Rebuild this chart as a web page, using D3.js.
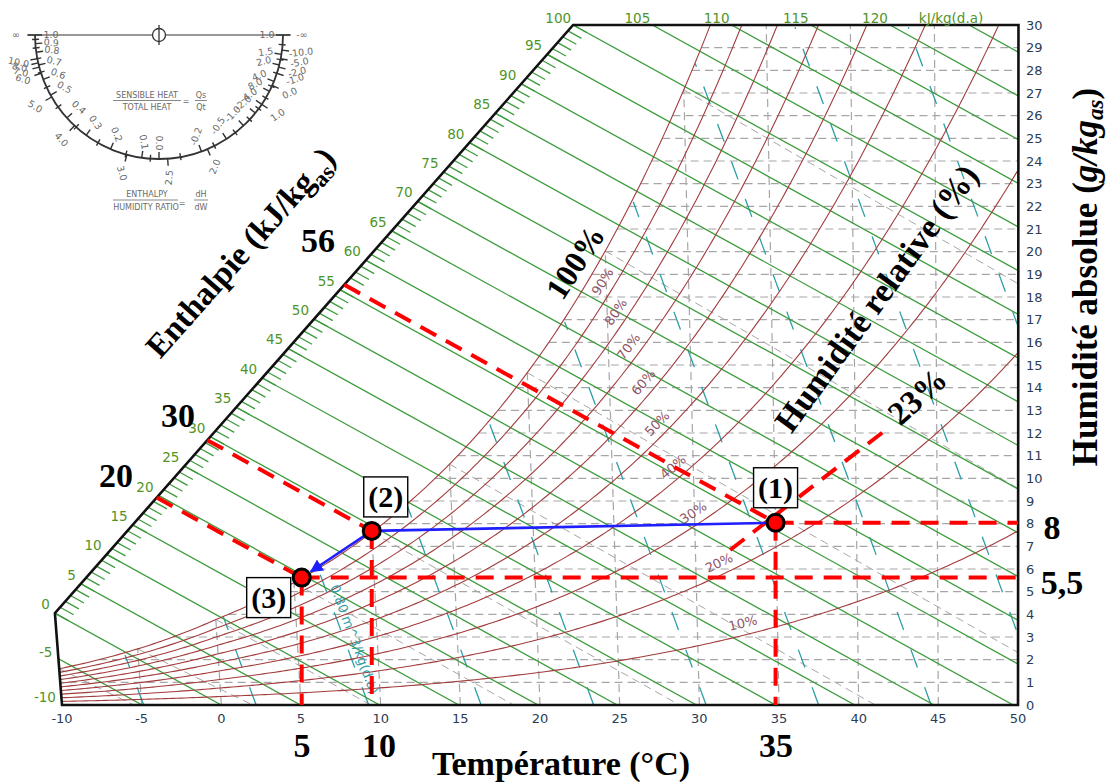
<!DOCTYPE html>
<html lang="fr">
<head>
<meta charset="utf-8">
<title>Diagramme de l'air humide</title>
<script src="https://cdn.jsdelivr.net/npm/d3@7/dist/d3.min.js"></script>
<style>
   body { margin: 0; background: #fff; }
   svg { display: block; }
</style>
</head>
<body>
<div id="chart"></div>
<script>
// ---- values ----
const tempTicks = [-10, -5, 0, 5, 10, 15, 20, 25, 30, 35, 40, 45, 50];
const humidityTicks = d3.range(0, 31);
const enthalpyLevels = d3.range(-10, 130, 5);            // kJ/kg(d.a)
const enthalpyTopLabels = [100, 105, 110, 115, 120];
const rhLevels = [10, 20, 30, 40, 50, 60, 70, 80, 90, 100];
const rhLabelLevels = [90, 80, 70, 60, 50, 40, 30, 20, 10];
const rhLabelHumidity = [18.4, 17.05, 15.5, 13.9, 12.05, 10.1, 8.05, 5.8, 3.1];
const volumeLevels = [0.76, 0.78, 0.80, 0.82, 0.84, 0.86, 0.88, 0.90, 0.92, 0.94];
const wetBulbLevels = [-10, -5, 0, 5, 10, 15, 20, 25, 30];

// process (1) -> (2) -> (3)
const processNames = ['(1)', '(2)', '(3)'];
const processTemp = [35, 10, 5.5];
const processHumidity = [8.04, 7.68, 5.62];
const leaderTemp = [32.15, 41.7];          // dashed pointer towards the 23% note
const leaderHumidity = [6.84, 12.04];

// protractor (sensible heat ratio inside, dH/dW outside), angles in degrees from the left end
const shrLabels = ['1.0', '0.9', '0.8', '0.7', '0.6', '0.5', '0.4', '0.3', '0.2', '0.1', '0.0',
                   '-0.2', '-0.5', '-1.0', '-2.0', '-4.0', '8.0', '4.0', '2.0', '1.5', '1.0'];
const shrAngles = [0, 4, 8, 14, 21, 29, 42, 54, 67, 82, 90, 110, 123, 133, 141, 146, 153, 158, 166, 171, 180];
const ratioLabels = ['\u221e', '10.0', '8.0', '7.0', '6.0', '5.0', '4.0', '3.0', '2.5', '2.0',
                     '1.0', '0.0', '-1.0', '-2.0', '-5.0', '-10.0', '-\u221e'];
const ratioAngles = [0, 11, 13, 15, 18, 30, 47, 75, 94, 113, 146, 156, 162, 165, 169, 173, 180];

const PRESSURE = 101.325;   // kPa
const SKEW = 2.593;         // x follows h - SKEW*W, so isotherms lean slightly

// ---- moist air relations ----
function satPressure(t) {
   return t >= 0
      ? 0.61094 * Math.exp(17.625 * t / (t + 243.04))
      : 0.61115 * Math.exp(22.452 * t / (t + 272.55));
}
function humidityFromPv(pv) { return 621.945 * pv / (PRESSURE - pv); }
function satHumidity(t) { return humidityFromPv(satPressure(t)); }
function tempFromPs(ps) {
   if (ps >= 0.61094) {
      const l = Math.log(ps / 0.61094);
      return 243.04 * l / (17.625 - l);
   }
   const l = Math.log(ps / 0.61115);
   return 272.55 * l / (22.452 - l);
}
function pvFromHumidity(w) { return w * PRESSURE / (621.945 + w); }
function enthalpy(t, w) { return 1.006 * t + w * (2.501 + 0.00186 * t); }
function tempFromHW(h, w) { return (h - 2.501 * w) / (1.006 + 0.00186 * w); }

class PsychroChart {
   constructor(parentElem) {
      this.parentElem = parentElem;
      this.initVis();
   }

   initVis() {
      this.svg = d3.select(this.parentElem).append('svg')
                     .attr('width', 1110)
                     .attr('height', 782);

      this.x = d3.scaleLinear().domain([-10, 50]).range([62, 1018]);
      this.y = d3.scaleLinear().domain([0, 30]).range([705, 25]);
      this.line = d3.line()
                     .x(d => this.px(d[0], d[1]))
                     .y(d => this.y(d[1]));

      // corner where h = 0 meets the -10 °C edge, start of the enthalpy scale
      this.cornerW = 10.06 / (2.501 - 0.0186);
      this.diagW = h => this.cornerW + (30 - this.cornerW) * h / 100;
      this.outline = [[-10, 0], [50, 0], [50, 30], [tempFromHW(100, 30), 30], [-10, this.cornerW]];

      this.svg.append('defs').append('clipPath')
         .attr('id', 'plot-clip')
         .append('path')
            .attr('d', this.line(this.outline) + 'Z');

      const mk = this.svg.select('defs').append('marker')
         .attr('id', 'arrow')
         .attr('viewBox', '0 0 10 10')
         .attr('refX', 9).attr('refY', 5)
         .attr('markerWidth', 5).attr('markerHeight', 5)
         .attr('markerUnits', 'strokeWidth')
         .attr('orient', 'auto');
      mk.append('path').attr('d', 'M0,0 L10,5 L0,10 Z').attr('fill', '#1f1fff');

      this.plot = this.svg.append('g');

      this.drawGrid();
      this.drawCurves();
      this.drawFrame();
      this.drawAnnotations();
      this.drawProtractor();
   }

   px(t, w) { return this.x((enthalpy(t, w) - SKEW * w) / 1.006); }

   drawGrid() {
      const g = this.plot.append('g')
                  .attr('clip-path', 'url(#plot-clip)')
                  .attr('fill', 'none')
                  .attr('stroke', '#a6a6a6')
                  .attr('stroke-width', 1.2)
                  .attr('stroke-dasharray', '8,5');

      g.selectAll('path.w-grid')
         .data(humidityTicks.filter(w => w > 0 && w < 30))
         .join('path')
            .attr('class', 'w-grid')
            .attr('d', w => this.line([[tempFromPs(pvFromHumidity(w)), w], [50, w]]));

      g.selectAll('path.t-grid')
         .data(tempTicks.filter(t => t > -10 && t < 50))
         .join('path')
            .attr('class', 't-grid')
            .attr('d', t => this.line([[t, 0], [t, Math.min(satHumidity(t), 30)]]));

      // wet bulb lines
      g.selectAll('path.wet-bulb')
         .data(wetBulbLevels)
         .join('path')
            .attr('class', 'wet-bulb')
            .attr('stroke-width', 1)
            .attr('d', twb => {
               const ws = satHumidity(twb) / 1000;
               const pts = d3.range(twb, 50.01, 0.5).map(t => {
                  const w = twb >= 0
                     ? ((2501 - 2.326 * twb) * ws - 1.006 * (t - twb)) / (2501 + 1.86 * t - 4.186 * twb)
                     : ((2830 - 0.24 * twb) * ws - 1.006 * (t - twb)) / (2830 + 1.86 * t - 2.1 * twb);
                  return [t, w * 1000];
               });
               return this.line(pts);
            });
   }

   drawCurves() {
      // specific volume
      this.plot.append('g')
         .attr('clip-path', 'url(#plot-clip)')
         .selectAll('path')
         .data(volumeLevels)
         .join('path')
            .attr('fill', 'none')
            .attr('stroke', '#2b9ea6')
            .attr('stroke-width', 1.3)
            .attr('stroke-dasharray', '19,21')
            .attr('d', v => {
               const pts = [];
               for (let w = 0; w <= 30; w += 0.1) {
                  const t = v * PRESSURE / (0.287042 * (1 + 0.001607858 * w)) - 273.15;
                  if (w > satHumidity(t)) break;
                  pts.push([t, w]);
               }
               return this.line(pts);
            });

      // enthalpy
      this.plot.append('g')
         .attr('clip-path', 'url(#plot-clip)')
         .selectAll('path')
         .data(enthalpyLevels)
         .join('path')
            .attr('fill', 'none')
            .attr('stroke', '#3d9c3d')
            .attr('stroke-width', 1.3)
            .attr('d', h => this.line([[tempFromHW(h, 0), 0], [tempFromHW(h, 30), 30]]));

      // relative humidity
      this.plot.append('g')
         .attr('clip-path', 'url(#plot-clip)')
         .selectAll('path')
         .data(rhLevels)
         .join('path')
            .attr('fill', 'none')
            .attr('stroke', '#a23c3c')
            .attr('stroke-width', 1.1)
            .attr('d', rh => this.line(d3.range(-10, 50.01, 0.25)
                                 .map(t => [t, humidityFromPv(rh / 100 * satPressure(t))])));

      // rh labels ride just above their curve
      const rhPoint = (rh, w) => {
         const t = tempFromPs(pvFromHumidity(w) / (rh / 100));
         return [this.px(t, w), this.y(w)];
      };
      this.plot.append('g')
         .selectAll('text')
         .data(rhLabelLevels)
         .join('text')
            .attr('transform', (rh, i) => {
               const w = rhLabelHumidity[i];
               const a = rhPoint(rh, w - 0.3), b = rhPoint(rh, w + 0.3), c = rhPoint(rh, w);
               const ang = Math.atan2(b[1] - a[1], b[0] - a[0]) * 180 / Math.PI;
               return `translate(${c[0]},${c[1]}) rotate(${ang})`;
            })
            .attr('y', -12)
            .attr('dy', '0.35em')
            .attr('text-anchor', 'middle')
            .attr('font-family', 'DejaVu Sans, Verdana, sans-serif')
            .attr('font-size', 13)
            .attr('fill', '#8e5567')
            .text(rh => rh + '%');

      // volume note along 0.80
      const vt = w => 0.80 * PRESSURE / (0.287042 * (1 + 0.001607858 * w)) - 273.15;
      const p1 = [this.px(vt(5.3), 5.3), this.y(5.3)];
      const p2 = [this.px(vt(0.2), 0.2), this.y(0.2)];
      const vAng = Math.atan2(p2[1] - p1[1], p2[0] - p1[0]) * 180 / Math.PI;
      this.plot.append('text')
         .attr('transform', `translate(${(p1[0] + p2[0]) / 2},${(p1[1] + p2[1]) / 2}) rotate(${vAng})`)
         .attr('y', -5)
         .attr('text-anchor', 'middle')
         .attr('font-family', 'DejaVu Sans, Verdana, sans-serif')
         .attr('font-size', 13)
         .attr('fill', '#2b9ea6')
         .text('0.80 m^3/kg(d.a)');
   }

   drawFrame() {
      const font = 'DejaVu Sans, Verdana, sans-serif';

      // enthalpy scale ticks along the slanted edge
      const tickG = this.plot.append('g')
                     .attr('stroke', '#3d9c3d')
                     .attr('stroke-width', 1.3);
      tickG.selectAll('line')
         .data(d3.range(0, 101))
         .join('line')
            .attr('x1', h => this.px(tempFromHW(h, this.diagW(h)), this.diagW(h)))
            .attr('y1', h => this.y(this.diagW(h)))
            .attr('x2', h => this.px(tempFromHW(h, this.diagW(h) - 0.33), this.diagW(h) - 0.33))
            .attr('y2', h => this.y(this.diagW(h) - 0.33));

      this.plot.append('path')
         .attr('d', this.line(this.outline) + 'Z')
         .attr('fill', 'none')
         .attr('stroke', '#111')
         .attr('stroke-width', 2.6)
         .attr('stroke-linejoin', 'miter');

      // enthalpy labels along the slanted edge and the -10 °C edge
      const edgeLabels = this.plot.append('g')
                           .attr('font-family', font)
                           .attr('font-size', 13.5)
                           .attr('fill', '#4f9428')
                           .attr('text-anchor', 'end');
      edgeLabels.selectAll('text.diag')
         .data(enthalpyLevels.filter(h => h >= 0 && h < 100))
         .join('text')
            .attr('class', 'diag')
            .attr('x', h => this.px(tempFromHW(h, this.diagW(h)), this.diagW(h)) - 5)
            .attr('y', h => this.y(this.diagW(h)) - 4)
            .text(h => h);
      const leftW = h => (h + 10.06) / (2.501 - 0.0186);
      edgeLabels.selectAll('text.left')
         .data(enthalpyLevels.filter(h => h < 0))
         .join('text')
            .attr('class', 'left')
            .attr('x', h => this.px(-10, leftW(h)) - 6)
            .attr('y', h => this.y(leftW(h)) - 2)
            .text(h => h);
      edgeLabels.selectAll('text.top')
         .data(enthalpyTopLabels)
         .join('text')
            .attr('class', 'top')
            .attr('x', h => this.px(tempFromHW(h, 30), 30) - 2)
            .attr('y', 23)
            .text(h => h);
      edgeLabels.append('text')
         .attr('x', this.px(tempFromHW(125, 30), 30) - 18)
         .attr('y', 23)
         .attr('text-anchor', 'middle')
         .text('kJ/kg(d.a)');

      // axes labels
      this.plot.append('g')
         .attr('font-family', font)
         .attr('font-size', 13)
         .attr('fill', '#2a3d55')
         .attr('text-anchor', 'middle')
         .selectAll('text')
         .data(tempTicks)
         .join('text')
            .attr('x', t => this.px(t, 0))
            .attr('y', 723)
            .text(t => t);

      this.plot.append('g')
         .attr('font-family', font)
         .attr('font-size', 13)
         .attr('fill', '#2a3d55')
         .selectAll('text')
         .data(humidityTicks)
         .join('text')
            .attr('x', 1026)
            .attr('y', w => this.y(w))
            .attr('dy', '0.36em')
            .text(w => w);
   }

   drawAnnotations() {
      const pts = processNames.map((n, i) => ({
         name: n,
         t: processTemp[i],
         w: processHumidity[i],
         x: this.px(processTemp[i], processHumidity[i]),
         y: this.y(processHumidity[i])
      }));
      const red = this.svg.append('g')
                     .attr('fill', 'none')
                     .attr('stroke', '#ff0000')
                     .attr('stroke-width', 4)
                     .attr('stroke-dasharray', '18,11');

      // enthalpy leaders back to the scale
      red.selectAll('path.lead')
         .data(pts)
         .join('path')
            .attr('class', 'lead')
            .attr('d', p => {
               const h = enthalpy(p.t, p.w);
               const wd = this.diagW(h);
               return this.line([[tempFromHW(h, wd), wd], [p.t, p.w]]);
            });
      red.selectAll('line.down')
         .data(pts)
         .join('line')
            .attr('class', 'down')
            .attr('x1', p => p.x).attr('y1', p => p.y)
            .attr('x2', p => p.x).attr('y2', this.y(0));
      red.selectAll('line.right')
         .data([pts[0], pts[2]])
         .join('line')
            .attr('class', 'right')
            .attr('x1', p => p.x).attr('y1', p => p.y)
            .attr('x2', this.x(50)).attr('y2', p => p.y);
      red.append('path')
         .attr('d', this.line(leaderTemp.map((t, i) => [t, leaderHumidity[i]])));

      // process path
      const blue = this.svg.append('g')
                     .attr('stroke', '#1f1fff')
                     .attr('stroke-width', 2.6);
      blue.append('line')
         .attr('x1', pts[0].x).attr('y1', pts[0].y)
         .attr('x2', pts[1].x).attr('y2', pts[1].y);
      const dx = pts[2].x - pts[1].x, dy = pts[2].y - pts[1].y;
      const len = Math.hypot(dx, dy);
      blue.append('line')
         .attr('x1', pts[1].x).attr('y1', pts[1].y)
         .attr('x2', pts[2].x - dx / len * 11).attr('y2', pts[2].y - dy / len * 11)
         .attr('marker-end', 'url(#arrow)');

      this.svg.append('g')
         .selectAll('circle')
         .data(pts)
         .join('circle')
            .attr('cx', p => p.x)
            .attr('cy', p => p.y)
            .attr('r', 8.5)
            .attr('fill', '#ff0000')
            .attr('stroke', '#000')
            .attr('stroke-width', 3);

      // boxed point names
      const boxOffset = [[0, -35], [14, -34], [-33, 20]];
      const boxes = this.svg.append('g')
                     .selectAll('g')
                     .data(pts)
                     .join('g')
                        .attr('transform', (p, i) => `translate(${p.x + boxOffset[i][0]},${p.y + boxOffset[i][1]})`);
      boxes.append('rect')
         .attr('x', -22).attr('y', -20)
         .attr('width', 44).attr('height', 40)
         .attr('fill', '#fff')
         .attr('stroke', '#000')
         .attr('stroke-width', 1.4);
      boxes.append('text')
         .attr('text-anchor', 'middle')
         .attr('dy', '0.34em')
         .attr('font-family', 'Liberation Serif, Times New Roman, serif')
         .attr('font-weight', 'bold')
         .attr('font-size', 30)
         .text(p => p.name);

      // big handwritten-style notes
      const notes = this.svg.append('g')
                     .attr('font-family', 'Liberation Serif, Times New Roman, serif')
                     .attr('font-weight', 'bold')
                     .attr('fill', '#000')
                     .attr('text-anchor', 'middle');
      const note = (txt, x, y, size, rot) => notes.append('text')
                     .attr('transform', `translate(${x},${y}) rotate(${rot || 0})`)
                     .attr('dy', '0.35em')
                     .attr('font-size', size)
                     .text(txt);

      note('56', 318, 240, 34);
      note('30', 178, 415, 34);
      note('20', 116, 475, 34);
      note('8', 1052, 527, 34);
      note('5,5', 1062, 582, 34);
      note('5', 302, 745, 34);
      note('10', 379, 745, 34);
      note('35', 776, 745, 34);
      note('Température (°C)', 561, 763, 34);
      note('100%', 575, 262, 32, -57);
      note('Humidité relative (%)', 876, 298, 34, -54);
      note('23%', 917, 396, 33, -42);

      const ent = notes.append('text')
                     .attr('transform', 'translate(240,252) rotate(-48.5)')
                     .attr('dy', '0.35em')
                     .attr('font-size', 33);
      ent.append('tspan').text('Enthalpie (kJ/kg');
      ent.append('tspan').attr('font-size', 23).attr('dy', 8).text('as');
      ent.append('tspan').attr('dy', -8).text(')');

      const abs = notes.append('text')
                     .attr('transform', 'translate(1085,277) rotate(-90)')
                     .attr('dy', '0.33em')
                     .attr('font-size', 35);
      abs.append('tspan').text('Humidité absolue (');
      abs.append('tspan').attr('font-style', 'italic').text('g/kg');
      abs.append('tspan').attr('font-style', 'italic').attr('font-size', 23).attr('dy', 6).text('as');
      abs.append('tspan').attr('dy', -6).text(')');
   }

   drawProtractor() {
      const cx = 159, cy = 35, r = 124;
      const font = 'DejaVu Sans, Verdana, sans-serif';
      const pt = (deg, rad) => [cx - rad * Math.cos(deg * Math.PI / 180),
                                cy + rad * Math.sin(deg * Math.PI / 180)];
      const g = this.svg.append('g')
                  .attr('stroke', '#333')
                  .attr('fill', 'none');

      g.append('path')
         .attr('d', `M${cx - r},${cy} A${r},${r} 0 0 0 ${cx + r},${cy}`)
         .attr('stroke-width', 1.8);
      g.append('line')
         .attr('x1', cx - r - 8).attr('y1', cy)
         .attr('x2', cx + r + 8).attr('y2', cy)
         .attr('stroke-width', 1.1);
      g.append('circle')
         .attr('cx', cx).attr('cy', cy).attr('r', 6.5)
         .attr('fill', '#fff')
         .attr('stroke-width', 1.3);
      g.append('line')
         .attr('x1', cx).attr('y1', cy - 10)
         .attr('x2', cx).attr('y2', cy + 10)
         .attr('stroke-width', 1.3);

      const tick = (deg, r1, r2) => {
         const a = pt(deg, r1), b = pt(deg, r2);
         return `M${a[0]},${a[1]}L${b[0]},${b[1]}`;
      };
      g.append('path')
         .attr('stroke-width', 1.4)
         .attr('d', shrAngles.map(a => tick(a, r, r - 7)).join('')
                  + ratioAngles.map(a => tick(a, r, r + 7)).join('')
                  + shrAngles.slice(1).map((a, i) => tick((a + shrAngles[i]) / 2, r - 4, r + 3)).join(''));

      const rot = a => (a <= 90 ? a : a - 180);
      const lab = this.svg.append('g')
                     .attr('font-family', font)
                     .attr('font-size', 9.5)
                     .attr('fill', '#6a6a6a')
                     .attr('text-anchor', 'middle');
      lab.selectAll('text.inner')
         .data(shrLabels)
         .join('text')
            .attr('class', 'inner')
            .attr('transform', (d, i) => {
               const p = pt(shrAngles[i], r - 16);
               return `translate(${p[0]},${p[1]}) rotate(${rot(shrAngles[i])})`;
            })
            .attr('dy', '0.35em')
            .text(d => d);
      lab.selectAll('text.outer')
         .data(ratioLabels)
         .join('text')
            .attr('class', 'outer')
            .attr('transform', (d, i) => {
               const p = pt(ratioAngles[i], r + 19);
               return `translate(${p[0]},${p[1]}) rotate(${rot(ratioAngles[i])})`;
            })
            .attr('dy', '0.35em')
            .text(d => d);

      // formulas
      const f = this.svg.append('g')
                  .attr('font-family', font)
                  .attr('font-size', 8)
                  .attr('fill', '#6a6a6a')
                  .attr('text-anchor', 'middle');
      f.append('text').attr('x', 147).attr('y', 98).text('SENSIBLE HEAT');
      f.append('text').attr('x', 147).attr('y', 110).text('TOTAL HEAT');
      f.append('text').attr('x', 186).attr('y', 104).text('=');
      f.append('text').attr('x', 201).attr('y', 98).text('Qs');
      f.append('text').attr('x', 201).attr('y', 110).text('Qt');
      f.append('text').attr('x', 147).attr('y', 197).text('ENTHALPY');
      f.append('text').attr('x', 146).attr('y', 210).text('HUMIDITY RATIO');
      f.append('text').attr('x', 182).attr('y', 206).text('=');
      f.append('text').attr('x', 201).attr('y', 197).text('dH');
      f.append('text').attr('x', 201).attr('y', 210).text('dW');
      const rule = this.svg.append('g').attr('stroke', '#6a6a6a').attr('stroke-width', 0.8);
      rule.append('line').attr('x1', 113).attr('x2', 181).attr('y1', 100.5).attr('y2', 100.5);
      rule.append('line').attr('x1', 195).attr('x2', 207).attr('y1', 100.5).attr('y2', 100.5);
      rule.append('line').attr('x1', 113).attr('x2', 178).attr('y1', 200).attr('y2', 200);
      rule.append('line').attr('x1', 194).attr('x2', 208).attr('y1', 200).attr('y2', 200);
   }
}

new PsychroChart('#chart');
</script>
</body>
</html>
